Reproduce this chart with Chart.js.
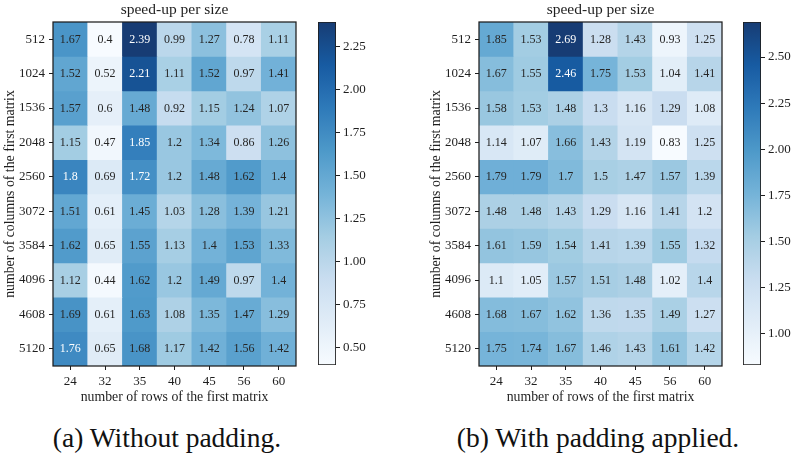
<!DOCTYPE html>
<html>
<head>
<meta charset="utf-8">
<script src="https://cdn.jsdelivr.net/npm/chart.js@4/dist/chart.umd.min.js"></script>
<style>
  html, body { margin: 0; padding: 0; background: #ffffff; }
  body { width: 795px; height: 456px; position: relative; overflow: hidden; }
  canvas { position: absolute; top: 0; }
  .cap { position: absolute; top: 422px; font-family: "Liberation Serif", "Times New Roman", serif; font-size: 27.5px; color: #111; white-space: nowrap; transform: translateX(-50%); line-height: 32px; }
</style>
</head>
<body>
<canvas id="hmA" width="300" height="410" style="left:0px"></canvas>
<canvas id="cbA" width="70" height="410" style="left:310px"></canvas>
<canvas id="hmB" width="300" height="410" style="left:426px"></canvas>
<canvas id="cbB" width="70" height="410" style="left:735px"></canvas>
<div class="cap" style="left:167px">(a) Without padding.</div>
<div class="cap" style="left:598px">(b) With padding applied.</div>
<script>
// ---- data ----
const cols = ['24', '32', '35', '40', '45', '56', '60'];
const rows = ['512', '1024', '1536', '2048', '2560', '3072', '3584', '4096', '4608', '5120'];
const speedupNoPad = [
  [1.67, 0.4, 2.39, 0.99, 1.27, 0.78, 1.11],
  [1.52, 0.52, 2.21, 1.11, 1.52, 0.97, 1.41],
  [1.57, 0.6, 1.48, 0.92, 1.15, 1.24, 1.07],
  [1.15, 0.47, 1.85, 1.2, 1.34, 0.86, 1.26],
  [1.8, 0.69, 1.72, 1.2, 1.48, 1.62, 1.4],
  [1.51, 0.61, 1.45, 1.03, 1.28, 1.39, 1.21],
  [1.62, 0.65, 1.55, 1.13, 1.4, 1.53, 1.33],
  [1.12, 0.44, 1.62, 1.2, 1.49, 0.97, 1.4],
  [1.69, 0.61, 1.63, 1.08, 1.35, 1.47, 1.29],
  [1.76, 0.65, 1.68, 1.17, 1.42, 1.56, 1.42]
];
const speedupPad = [
  [1.85, 1.53, 2.69, 1.28, 1.43, 0.93, 1.25],
  [1.67, 1.55, 2.46, 1.75, 1.53, 1.04, 1.41],
  [1.58, 1.53, 1.48, 1.3, 1.16, 1.29, 1.08],
  [1.14, 1.07, 1.66, 1.43, 1.19, 0.83, 1.25],
  [1.79, 1.79, 1.7, 1.5, 1.47, 1.57, 1.39],
  [1.48, 1.48, 1.43, 1.29, 1.16, 1.41, 1.2],
  [1.61, 1.59, 1.54, 1.41, 1.39, 1.55, 1.32],
  [1.1, 1.05, 1.57, 1.51, 1.48, 1.02, 1.4],
  [1.68, 1.67, 1.62, 1.36, 1.35, 1.49, 1.27],
  [1.75, 1.74, 1.67, 1.46, 1.43, 1.61, 1.42]
];
const cbTicksNoPad = [0.5, 0.75, 1.0, 1.25, 1.5, 1.75, 2.0, 2.25];
const cbTicksPad = [1.0, 1.25, 1.5, 1.75, 2.0, 2.25, 2.5];

// ---- style ----
const FONT = "'Liberation Serif', 'Times New Roman', serif";
const INK = '#1e1e1e';
const DARK_TEXT = '#262626';
const ALPHA = 0.94;
const WHITE_TEXT_THRESHOLD = 0.655;
const BLUES = [[247,251,255],[222,235,247],[198,219,239],[158,202,225],[107,174,214],[66,146,198],[33,113,181],[8,81,156],[8,48,107]];

Chart.defaults.font.family = FONT;
Chart.defaults.color = INK;

function blues(t) {
  t = Math.max(0, Math.min(1, t));
  const p = t * (BLUES.length - 1);
  const i = Math.min(BLUES.length - 2, Math.floor(p));
  const f = p - i;
  const a = BLUES[i], b = BLUES[i + 1];
  return [0, 1, 2].map(k => a[k] + (b[k] - a[k]) * f);
}
function blended(t) {
  const c = blues(t).map(v => Math.round(v * ALPHA + 255 * (1 - ALPHA)));
  return `rgb(${c[0]},${c[1]},${c[2]})`;
}

function makePanel(hmId, cbId, values, cbTicks) {
  const flat = values.flat();
  const vmin = Math.min(...flat), vmax = Math.max(...flat);
  const norm = v => (v - vmin) / (vmax - vmin);

  const annot = {
    id: 'annot',
    afterDatasetsDraw(chart) {
      const { ctx, chartArea: a, scales } = chart;
      ctx.save();
      ctx.strokeStyle = INK;
      ctx.lineWidth = 1.25;
      ctx.strokeRect(a.left, a.top, a.right - a.left, a.bottom - a.top);
      ctx.font = `12px ${FONT}`;
      ctx.textAlign = 'center';
      ctx.textBaseline = 'middle';
      values.forEach((row, i) => {
        row.forEach((v, j) => {
          const x = scales.x.getPixelForValue(j);
          const y = scales.y.getPixelForValue(i + 0.5);
          ctx.fillStyle = norm(v) > WHITE_TEXT_THRESHOLD ? '#ffffff' : DARK_TEXT;
          ctx.fillText(String(v), x, y + 0.5);
        });
      });
      ctx.restore();
    }
  };

  new Chart(document.getElementById(hmId), {
    type: 'bar',
    data: {
      labels: cols,
      datasets: rows.map((r, i) => ({
        label: r,
        data: cols.map(() => [i, i + 1]),
        backgroundColor: values[i].map(v => blended(norm(v))),
        grouped: false,
        barPercentage: 1,
        categoryPercentage: 1,
        borderWidth: 0
      }))
    },
    options: {
      responsive: false,
      animation: false,
      devicePixelRatio: 1,
      layout: { padding: { top: 0, right: 4, bottom: 0, left: 0 } },
      plugins: {
        legend: { display: false },
        tooltip: { enabled: false },
        title: {
          display: true, text: 'speed-up per size', fullSize: false,
          font: { size: 15.5, weight: 'normal' }, color: INK,
          padding: { top: 1, bottom: 2.4 }
        }
      },
      scales: {
        x: {
          type: 'category', offset: true,
          grid: { display: true, drawOnChartArea: false, offset: false, tickLength: 4, tickColor: INK, lineWidth: 1 },
          border: { display: false },
          ticks: { padding: 3.5, font: { size: 13 }, color: INK, maxRotation: 0, autoSkip: false },
          title: { display: true, text: 'number of rows of the first matrix', font: { size: 13.8 }, color: INK, padding: { top: 0, bottom: 4.5 } },
          afterFit(s) { s.height = 44; }
        },
        y: {
          type: 'linear', min: 0, max: 10, reverse: true,
          afterBuildTicks(s) { s.ticks = rows.map((_, i) => ({ value: i + 0.5 })); },
          grid: { display: true, drawOnChartArea: false, tickLength: 4, tickColor: INK, lineWidth: 1 },
          border: { display: false },
          ticks: { padding: 4, font: { size: 13 }, color: INK, autoSkip: false, callback: v => rows[Math.floor(v)] },
          title: { display: true, text: 'number of columns of the first matrix', font: { size: 13.8 }, color: INK, padding: { top: 2.5, bottom: 0 } },
          afterFit(s) { s.width = 53; }
        }
      }
    },
    plugins: [annot]
  });

  new Chart(document.getElementById(cbId), {
    type: 'bar',
    data: {
      labels: [''],
      datasets: [{
        data: [[vmin, vmax]],
        backgroundColor(ctx) {
          const a = ctx.chart.chartArea;
          if (!a) return blended(0.5);
          const g = ctx.chart.ctx.createLinearGradient(0, a.bottom, 0, a.top);
          for (let k = 0; k <= 16; k++) g.addColorStop(k / 16, blended(k / 16));
          return g;
        },
        borderColor: INK,
        borderWidth: 1.2,
        borderSkipped: false,
        barPercentage: 1,
        categoryPercentage: 1
      }]
    },
    options: {
      responsive: false,
      animation: false,
      devicePixelRatio: 1,
      layout: { padding: { top: 22, left: 8, right: 0, bottom: 45 } },
      plugins: { legend: { display: false }, tooltip: { enabled: false } },
      scales: {
        x: { display: false },
        y: {
          position: 'right', min: vmin, max: vmax,
          afterBuildTicks(s) { s.ticks = cbTicks.map(v => ({ value: v })); },
          grid: { display: true, drawOnChartArea: false, tickLength: 4, tickColor: INK, lineWidth: 1 },
          border: { display: false },
          ticks: { padding: 3, font: { size: 13 }, color: INK, autoSkip: false, callback: v => v.toFixed(2) },
          afterFit(s) { s.width = 44; }
        }
      }
    }
  });
}

makePanel('hmA', 'cbA', speedupNoPad, cbTicksNoPad);
makePanel('hmB', 'cbB', speedupPad, cbTicksPad);
</script>
</body>
</html>
